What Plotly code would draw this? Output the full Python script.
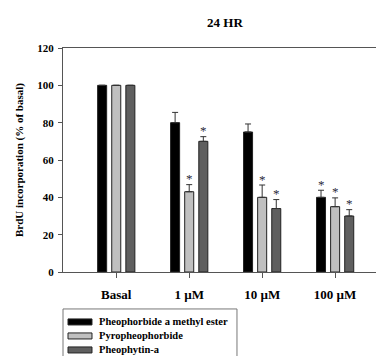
import plotly.graph_objects as go

categories = ["Basal", "1 µM", "10 µM", "100 µM"]
series_names = ["Pheophorbide a methyl ester", "Pyropheophorbide", "Pheophytin-a"]
values = [
    [100, 80, 75, 40],
    [100, 43, 40, 35],
    [100, 70, 34, 30],
]
errors = [
    [0, 5.5, 4.3, 3.8],
    [0, 3.8, 6.6, 4.7],
    [0, 2.5, 4.8, 3.4],
]
significant = [
    [False, False, False, True],
    [False, True, True, True],
    [False, True, True, True],
]
colors = ["#000000", "#c0c0c0", "#5f5f5f"]
serif = "Liberation Serif, Times New Roman, serif"

fig = go.Figure()
for name, vals, errs, col in zip(series_names, values, errors, colors):
    fig.add_trace(go.Bar(
        x=categories, y=vals, name=name, showlegend=False,
        marker=dict(color=col, line=dict(color="#222222", width=1)),
        error_y=dict(type="data", array=errs, arrayminus=[0] * len(errs),
                     symmetric=False, color="#333333", thickness=1, width=3,
                     visible=True),
    ))

shifts = [-14, 0, 14]
for si, (vals, errs, sig) in enumerate(zip(values, errors, significant)):
    for ci, cat in enumerate(categories):
        if sig[ci]:
            fig.add_annotation(x=cat, y=vals[ci] + errs[ci], text="*",
                               showarrow=False, xshift=shifts[si], yshift=6,
                               font=dict(family=serif, size=13, color="#2a2a3a"))

# legend box (drawn in paper coordinates, below the plot area)
fig.add_shape(type="rect", xref="paper", yref="paper",
              x0=0, x1=0.542, y0=-0.40, y1=-0.165,
              line=dict(color="#777777", width=1), fillcolor="white", layer="below")
for i, (name, col) in enumerate(zip(series_names, colors)):
    yc = -0.223 - i * 0.0625
    fig.add_shape(type="rect", xref="paper", yref="paper",
                  x0=0.0156, x1=0.0903, y0=yc - 0.0134, y1=yc + 0.0134,
                  fillcolor=col, line=dict(color="#222222", width=1))
    fig.add_annotation(xref="paper", yref="paper", x=0.106, y=yc,
                       xanchor="left", yanchor="middle", showarrow=False,
                       text="<b>" + name + "</b>",
                       font=dict(family=serif, size=10.5, color="black"))

# y-axis title
fig.add_annotation(xref="paper", yref="paper", x=-0.137, y=0.5,
                   xanchor="center", yanchor="middle", textangle=-90,
                   showarrow=False, text="<b>BrdU incorporation (% of basal)</b>",
                   font=dict(family=serif, size=11, color="black"))

# page has an 8px body margin; figure is sized to fill the rest of the window
fig.update_layout(
    width=376, height=348,
    margin=dict(l=55, r=0, t=40, b=84, autoexpand=False),
    paper_bgcolor="white", plot_bgcolor="white",
    barmode="group", bargap=0.42, bargroupgap=0.36,
    title=dict(text="<b>24 HR</b>", x=0.577, xanchor="center", y=0.958,
               yanchor="middle", font=dict(family=serif, size=13, color="black")),
    showlegend=False,
)
fig.update_xaxes(
    type="category", range=[-0.73, 3.67],
    showline=True, linecolor="#555555", linewidth=1, mirror=True,
    ticks="outside", ticklen=5, tickcolor="#555555", ticklabelstandoff=5,
    tickfont=dict(family=serif, size=13, color="black", weight="bold"),
    showgrid=False, zeroline=False,
)
fig.update_yaxes(
    range=[0, 120], tickvals=[0, 20, 40, 60, 80, 100, 120],
    showline=True, linecolor="#555555", linewidth=1, mirror=False,
    ticks="outside", ticklen=4, tickcolor="#555555", ticklabelstandoff=2,
    tickfont=dict(family=serif, size=11, color="black", weight="bold"),
    showgrid=False, zeroline=False,
)

fig.write_html("out.html")
